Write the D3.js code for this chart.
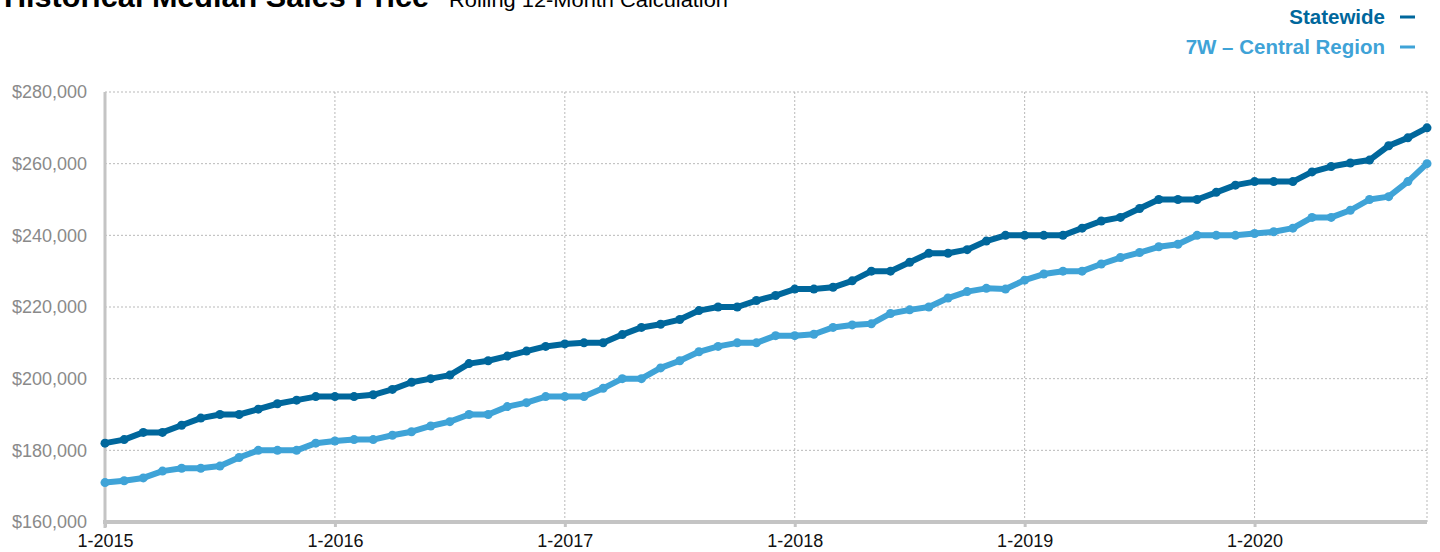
<!DOCTYPE html>
<html>
<head>
<meta charset="utf-8">
<script src="https://cdn.jsdelivr.net/npm/d3@7"></script>
<style>
  html, body { margin: 0; padding: 0; background: #fff; }
  svg { display: block; font-family: "Liberation Sans", Arial, Helvetica, sans-serif; }
</style>
</head>
<body>
<svg id="chart" width="1440" height="552"></svg>
<script>
// Monthly rolling 12-month median sales price, Jan 2015 – Oct 2020 (thousands of dollars)
const months = [];
for (let yr = 2015; yr <= 2020; yr++) {
  for (let m = 1; m <= 12; m++) {
    if (yr === 2020 && m > 10) break;
    months.push(m + "-" + yr);
  }
}

const statewide = [
  182, 183, 185, 185, 187, 189, 190, 190, 191.5, 193, 194, 195,
  195, 195, 195.5, 197, 199, 200, 201, 204.2, 205, 206.3, 207.7, 209,
  209.7, 210, 210, 212.3, 214.3, 215.2, 216.5, 219, 220, 220, 221.8, 223.2,
  225, 225, 225.5, 227.3, 230, 230, 232.5, 235, 235, 236, 238.4, 240,
  240, 240, 240, 242, 244, 245, 247.5, 250, 250, 250, 252, 254,
  255, 255, 255, 257.7, 259.2, 260.2, 261, 265, 267.2, 270
];

const central = [
  171, 171.5, 172.3, 174.2, 175, 175, 175.6, 178, 180, 180, 180, 182,
  182.6, 183, 183, 184.2, 185.2, 186.8, 188, 190, 190, 192.2, 193.3, 195,
  195, 195, 197.3, 200, 200, 203, 205, 207.5, 209, 210, 210, 212,
  212, 212.4, 214.3, 215, 215.3, 218.2, 219.2, 220, 222.5, 224.3, 225.2, 225,
  227.5, 229.2, 230, 230, 232, 233.8, 235.2, 236.8, 237.5, 240, 240, 240,
  240.5, 241, 242, 245, 245, 247, 250, 250.8, 255, 260
];

const yTicks = [160, 180, 200, 220, 240, 260, 280];
const xTickLabels = ["1-2015", "1-2016", "1-2017", "1-2018", "1-2019", "1-2020"];

const seriesNames = ["Statewide", "7W – Central Region"];
const seriesColors = ["#00679c", "#3fa3d7"];

const svg = d3.select("#chart");
const plotLeft = 105, plotRight = 1427, plotTop = 92, plotBottom = 522;

const x = d3.scaleLinear().domain([0, months.length - 1]).range([plotLeft, plotRight]);
const y = d3.scaleLinear().domain([160, 280]).range([plotBottom, plotTop]);

// Titles
svg.append("text")
  .attr("x", 4).attr("y", 7)
  .attr("font-size", 29).attr("font-weight", "bold").attr("fill", "#000")
  .attr("textLength", 425).attr("lengthAdjust", "spacingAndGlyphs")
  .text("Historical Median Sales Price");
svg.append("text")
  .attr("x", 449).attr("y", 7)
  .attr("font-size", 21).attr("fill", "#000")
  .attr("textLength", 279).attr("lengthAdjust", "spacingAndGlyphs")
  .text("Rolling 12-Month Calculation");

// Legend
seriesNames.forEach((name, i) => {
  const ly = 24 + i * 30;
  svg.append("text")
    .attr("x", 1385).attr("y", ly)
    .attr("text-anchor", "end")
    .attr("font-size", 20.5).attr("font-weight", "bold")
    .attr("fill", seriesColors[i])
    .text(name);
  svg.append("line")
    .attr("x1", 1400).attr("x2", 1415)
    .attr("y1", ly - 7).attr("y2", ly - 7)
    .attr("stroke", seriesColors[i]).attr("stroke-width", 3);
});

// Gridlines
const grid = svg.append("g");
grid.selectAll("line.h").data(yTicks).join("line")
  .attr("class", "h")
  .attr("x1", plotLeft).attr("x2", plotRight)
  .attr("y1", d => y(d)).attr("y2", d => y(d))
  .attr("stroke", "#b9b9b9").attr("stroke-width", 1).attr("stroke-dasharray", "2,2");
const xGridIdx = xTickLabels.map((_, i) => i * 12).concat([months.length - 1]);
grid.selectAll("line.v").data(xGridIdx).join("line")
  .attr("class", "v")
  .attr("x1", d => x(d)).attr("x2", d => x(d))
  .attr("y1", plotTop).attr("y2", plotBottom)
  .attr("stroke", "#b9b9b9").attr("stroke-width", 1).attr("stroke-dasharray", "2,2");

// Y axis labels
const yAxis = svg.append("g")
  .attr("transform", `translate(${plotLeft},0)`)
  .call(d3.axisLeft(y).tickValues(yTicks).tickSize(0).tickPadding(18)
    .tickFormat(d => "$" + d3.format(",")(d * 1000)));
yAxis.select(".domain").remove();
yAxis.selectAll("text")
  .attr("font-size", 18).attr("fill", "#8a8a8a")
  .attr("font-family", "Liberation Sans, Arial, sans-serif");

// X axis
const xAxis = svg.append("g")
  .attr("transform", `translate(0,${plotBottom})`)
  .call(d3.axisBottom(x).tickValues(xTickLabels.map((_, i) => i * 12))
    .tickSize(5).tickPadding(7)
    .tickFormat((d, i) => xTickLabels[i]));
xAxis.select(".domain").remove();
xAxis.selectAll(".tick line").attr("stroke", "#c4c4c4").attr("stroke-width", 3);
xAxis.selectAll("text")
  .attr("font-size", 18).attr("fill", "#111")
  .attr("font-family", "Liberation Sans, Arial, sans-serif");

// Axis lines
svg.append("line")
  .attr("x1", plotLeft - 2).attr("x2", plotRight)
  .attr("y1", plotBottom).attr("y2", plotBottom)
  .attr("stroke", "#c4c4c4").attr("stroke-width", 4);
svg.append("line")
  .attr("x1", plotLeft).attr("x2", plotLeft)
  .attr("y1", plotTop).attr("y2", plotBottom + 6)
  .attr("stroke", "#c4c4c4").attr("stroke-width", 3);

// Series lines with point markers
const line = d3.line().x((d, i) => x(i)).y(d => y(d));
[central, statewide].forEach((vals, k) => {
  const color = k === 0 ? seriesColors[1] : seriesColors[0];
  const g = svg.append("g");
  g.append("path")
    .attr("d", line(vals))
    .attr("fill", "none").attr("stroke", color)
    .attr("stroke-width", 6).attr("stroke-linejoin", "round");
  g.selectAll("circle").data(vals).join("circle")
    .attr("cx", (d, i) => x(i)).attr("cy", d => y(d))
    .attr("r", 4.5).attr("fill", color);
});
</script>
</body>
</html>
